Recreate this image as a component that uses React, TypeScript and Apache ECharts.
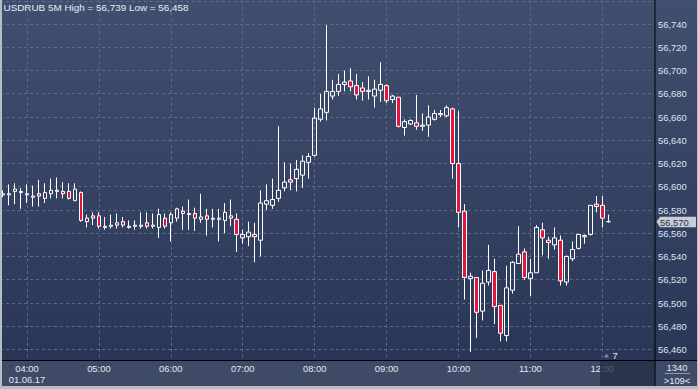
import React, { useEffect, useRef } from "react";
import * as echarts from "echarts";

// 5-minute candles, 03:40 .. 12:05 (01.06.17), plus empty slots to the right edge
const startMinutes = 3 * 60 + 40;
const slotCount = 109;
const times: string[] = [];
for (let k = 0; k < slotCount; k++) {
  const m = startMinutes + 5 * k;
  times.push(String(Math.floor(m / 60)).padStart(2, "0") + ":" + String(m % 60).padStart(2, "0"));
}
const dateLabel = "01.06.17";

const opens = [
  56.593, 56.593, 56.596, 56.595, 56.593, 56.591, 56.594, 56.590, 56.594, 56.596,
  56.596, 56.596, 56.588, 56.595, 56.570, 56.575, 56.575, 56.565, 56.566, 56.567,
  56.570, 56.565, 56.566, 56.566, 56.569, 56.566, 56.565, 56.573, 56.569, 56.573,
  56.579, 56.576, 56.577, 56.572, 56.575, 56.572, 56.572, 56.571, 56.575, 56.572,
  56.556, 56.557, 56.559, 56.554, 56.585, 56.584, 56.590, 56.599, 56.606, 56.607,
  56.610, 56.621, 56.627, 56.658, 56.664, 56.678, 56.682, 56.688, 56.691, 56.687,
  56.685, 56.682, 56.678, 56.683, 56.687, 56.675, 56.677, 56.651, 56.654, 56.655,
  56.652, 56.653, 56.658, 56.662, 56.661, 56.667, 56.620, 56.579, 56.521, 56.522,
  56.493, 56.518, 56.527, 56.498, 56.472, 56.511, 56.534, 56.544, 56.521, 56.526,
  56.563, 56.554, 56.550, 56.554, 56.518, 56.538, 56.547, 56.557, 56.559, 56.585,
  56.584, 56.570,
];
const closes = [
  56.594, 56.594, 56.598, 56.596, 56.594, 56.592, 56.592, 56.595, 56.597, 56.597,
  56.594, 56.590, 56.598, 56.571, 56.573, 56.573, 56.566, 56.566, 56.567, 56.569,
  56.567, 56.566, 56.567, 56.567, 56.566, 56.567, 56.576, 56.566, 56.576, 56.581,
  56.577, 56.577, 56.573, 56.574, 56.572, 56.573, 56.573, 56.578, 56.573, 56.559,
  56.559, 56.561, 56.557, 56.586, 56.588, 56.589, 56.597, 56.604, 56.604, 56.615,
  56.622, 56.626, 56.659, 56.667, 56.682, 56.682, 56.688, 56.690, 56.686, 56.679,
  56.682, 56.683, 56.684, 56.688, 56.674, 56.678, 56.652, 56.656, 56.657, 56.652,
  56.653, 56.660, 56.663, 56.663, 56.668, 56.620, 56.578, 56.522, 56.523, 56.492,
  56.517, 56.528, 56.497, 56.474, 56.513, 56.535, 56.542, 56.522, 56.526, 56.565,
  56.556, 56.552, 56.556, 56.519, 56.540, 56.546, 56.559, 56.558, 56.584, 56.583,
  56.573, 56.570,
];
const lows = [
  56.591, 56.584, 56.585, 56.581, 56.586, 56.583, 56.583, 56.586, 56.590, 56.590,
  56.590, 56.589, 56.588, 56.570, 56.565, 56.567, 56.564, 56.563, 56.564, 56.564,
  56.565, 56.564, 56.563, 56.564, 56.564, 56.564, 56.556, 56.564, 56.553, 56.570,
  56.563, 56.563, 56.562, 56.569, 56.558, 56.565, 56.553, 56.560, 56.566, 56.544,
  56.551, 56.549, 56.535, 56.540, 56.580, 56.581, 56.587, 56.596, 56.597, 56.596,
  56.599, 56.607, 56.626, 56.656, 56.657, 56.675, 56.678, 56.682, 56.682, 56.675,
  56.674, 56.675, 56.668, 56.673, 56.672, 56.672, 56.651, 56.644, 56.653, 56.649,
  56.648, 56.643, 56.657, 56.660, 56.660, 56.607, 56.565, 56.503, 56.458, 56.470,
  56.485, 56.515, 56.482, 56.467, 56.467, 56.508, 56.534, 56.520, 56.506, 56.526,
  56.541, 56.538, 56.546, 56.515, 56.515, 56.536, 56.546, 56.551, 56.558, 56.578,
  56.565, 56.569,
];
const highs = [
  56.597, 56.602, 56.603, 56.599, 56.602, 56.601, 56.606, 56.603, 56.607, 56.608,
  56.604, 56.603, 56.603, 56.596, 56.576, 56.578, 56.578, 56.574, 56.576, 56.577,
  56.574, 56.571, 56.571, 56.578, 56.578, 56.577, 56.581, 56.577, 56.578, 56.582,
  56.583, 56.589, 56.582, 56.594, 56.581, 56.581, 56.581, 56.586, 56.589, 56.577,
  56.563, 56.570, 56.569, 56.597, 56.602, 56.607, 56.652, 56.621, 56.620, 56.623,
  56.627, 56.629, 56.668, 56.680, 56.739, 56.692, 56.697, 56.700, 56.702, 56.697,
  56.690, 56.695, 56.692, 56.707, 56.688, 56.679, 56.677, 56.658, 56.658, 56.679,
  56.663, 56.670, 56.666, 56.666, 56.670, 56.668, 56.665, 56.585, 56.526, 56.522,
  56.528, 56.550, 56.538, 56.498, 56.532, 56.536, 56.566, 56.547, 56.538, 56.567,
  56.569, 56.557, 56.565, 56.558, 56.541, 56.553, 56.559, 56.559, 56.584, 56.592,
  56.592, 56.576,
];

const priceMin = 56.44;
const priceMax = 56.76;
const priceStep = 0.02;
const volumeMark = "7";
const infoTop = "1340";
const infoBottom = ">109<";

const FONT = "'Liberation Sans', Arial, sans-serif";
const fmt = (v: number) => v.toFixed(3).replace(".", ",");

export default function App() {
  const ref = useRef<HTMLDivElement>(null);
  useEffect(() => {
    if (!ref.current) return;
    const chart = echarts.init(ref.current, null, { renderer: "svg" });
    const candles = opens.map((o, i) => [o, closes[i], lows[i], highs[i]]);
    const hi = Math.max(...highs);
    const lo = Math.min(...lows);
    const last = closes[closes.length - 1];
    const isHour = (v: string) => v.endsWith(":00");

    chart.setOption({
      animation: false,
      title: {
        text: `USDRUB 5M High = ${fmt(hi)} Low = ${fmt(lo)}`,
        left: 3.5,
        top: 2,
        padding: 0,
        textStyle: { color: "#e6ecf6", fontSize: 9.9, fontWeight: "normal", fontFamily: FONT, lineHeight: 11 },
      },
      grid: { left: -0.7, right: 44.7, top: 0.75, bottom: 16.25 },
      xAxis: [
        {
          type: "category",
          data: times,
          boundaryGap: true,
          position: "bottom",
          offset: -12.25,
          z: 20,
          axisLine: { show: false },
          axisTick: { show: false },
          splitLine: { show: false },
          axisLabel: {
            interval: (idx: number, v: string) => isHour(v) && idx < opens.length,
            formatter: (v: string) => (v === "04:00" ? `${v}\n${dateLabel}` : v),
            margin: 2,
            color: "#e2e9f4",
            fontSize: 9.4,
            lineHeight: 11,
            fontFamily: FONT,
          },
        },
        {
          type: "category",
          data: times,
          boundaryGap: true,
          position: "top",
          axisLine: { show: false },
          axisTick: { show: false },
          axisLabel: { show: false },
          splitLine: {
            show: true,
            interval: (idx: number, v: string) => isHour(v) && idx < opens.length,
            alignWithLabel: true,
            lineStyle: { color: "#5b6b8d", type: [3, 3], width: 1 },
          },
        },
      ],
      yAxis: {
        type: "value",
        position: "right",
        offset: 1.7,
        min: priceMin,
        max: priceMax,
        interval: priceStep,
        axisLine: { show: false },
        axisTick: { show: false },
        axisLabel: {
          formatter: (v: number) => fmt(v),
          showMinLabel: false,
          showMaxLabel: false,
          margin: 3,
          color: "#dbe4f2",
          fontSize: 9.4,
          fontFamily: FONT,
        },
        splitLine: { show: true, lineStyle: { color: "#5b6b8d", type: [3, 3], width: 1 } },
      },
      series: [
        {
          type: "candlestick",
          data: candles,
          barWidth: 4,
          itemStyle: {
            color: "transparent",
            color0: "#e3153f",
            borderColor: "#ffffff",
            borderColor0: "#ffffff",
            borderColorDoji: "#ffffff",
            borderWidth: 1,
          },
        },
      ],
    });

    const py = chart.convertToPixel({ yAxisIndex: 0 }, last) as number;
    const axisX = 655;
    const axisY = 360.5;
    chart.setOption({
      graphic: {
        elements: [
          {
            type: "rect", z: -10, silent: true,
            shape: { x: 0, y: 0, width: 698, height: axisY },
            style: {
              fill: new echarts.graphic.LinearGradient(0, 0, 0, 1, [
                { offset: 0, color: "#414f6e" },
                { offset: 1, color: "#2a3656" },
              ]),
            },
          },
          { type: "rect", z: 10, silent: true, shape: { x: 0, y: axisY, width: 698, height: 389 - axisY }, style: { fill: "#3e4a66" } },
          { type: "rect", z: 25, silent: true, shape: { x: 600, y: axisY + 0.5, width: axisX - 600, height: 25 }, style: { fill: "rgba(38,46,72,0.78)" } },
          { type: "line", z: 30, silent: true, shape: { x1: 0, y1: axisY, x2: 698, y2: axisY }, style: { stroke: "#000", lineWidth: 1 } },
          { type: "line", z: 30, silent: true, shape: { x1: axisX, y1: 0, x2: axisX, y2: 386 }, style: { stroke: "#000", lineWidth: 1 } },
          {
            type: "polygon", z: 30, silent: true,
            shape: { points: [[604, 357.5], [609, 357.5], [606.5, 353.5]] },
            style: { fill: "#7d8aa3" },
          },
          {
            type: "text", z: 30, silent: true, x: 615, y: 355.5,
            style: { text: volumeMark, fill: "#e6ecf6", fontSize: 9.4, fontFamily: FONT, align: "center", verticalAlign: "middle" },
          },
          {
            type: "text", z: 30, silent: true, x: 677, y: 367,
            style: { text: infoTop, fill: "#e6ecf6", fontSize: 9.4, fontFamily: FONT, align: "center", verticalAlign: "middle" },
          },
          { type: "line", z: 30, silent: true, shape: { x1: 665, y1: 373.5, x2: 690, y2: 373.5 }, style: { stroke: "#8f9ab0", lineWidth: 1 } },
          {
            type: "text", z: 30, silent: true, x: 677, y: 380.5,
            style: { text: infoBottom, fill: "#e6ecf6", fontSize: 9.4, fontFamily: FONT, align: "center", verticalAlign: "middle" },
          },
          {
            type: "polygon", z: 30, silent: true,
            shape: { points: [[656.5, py], [660, py - 5], [696, py - 5], [696, py + 5.5], [660, py + 5.5]] },
            style: { fill: "#c8ccd4" },
          },
          {
            type: "text", z: 31, silent: true, x: 660, y: py + 0.5,
            style: { text: fmt(last), fill: "#24304c", fontSize: 9.4, fontFamily: FONT, align: "left", verticalAlign: "middle" },
          },
          { type: "rect", z: 40, silent: true, shape: { x: 0, y: 0, width: 2, height: 389 }, style: { fill: "#b7bcc6" } },
          { type: "rect", z: 40, silent: true, shape: { x: 0, y: 386, width: 698, height: 3 }, style: { fill: "#b7bcc6" } },
          { type: "rect", z: 40, silent: true, shape: { x: 697, y: 0, width: 1, height: 389 }, style: { fill: "#b7bcc6" } },
        ],
      },
    });

    return () => chart.dispose();
  }, []);
  return <div ref={ref} style={{ position: "absolute", left: 0, top: 0, width: 698, height: 389 }} />;
}
